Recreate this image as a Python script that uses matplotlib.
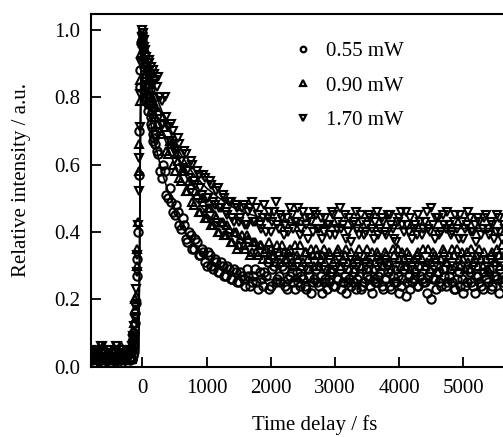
import matplotlib
matplotlib.use("Agg")
import matplotlib.pyplot as plt
from matplotlib.lines import Line2D

# ---------------------------------------------------------------
# Data
# two interleaved delay grids, each with a value list per power
# ---------------------------------------------------------------
delay_a = [
    -790, -750, -710, -670, -630, -590, -550, -510, -470, -430, -390, -350, -310, -270, -230,
    -200, -180, -160, -140, -120, -100, -80, -60, -40, -20, 0, 20, 40, 60, 80, 100, 120, 140, 160, 180, 200,
    250, 300, 350, 400, 450, 500, 550, 600, 650, 700,
    750, 800, 850, 900, 950, 1000, 1050, 1100, 1150, 1200,
    1250, 1300, 1350, 1400, 1450, 1500, 1550, 1600, 1650, 1700,
    1750, 1800, 1850, 1900, 1950, 2000, 2050, 2100, 2150, 2200,
    2250, 2300, 2350, 2400, 2450, 2500, 2550, 2600, 2650, 2700,
    2750, 2800, 2850, 2900, 2950, 3000, 3050, 3100, 3150, 3200,
    3250, 3300, 3350, 3400, 3450, 3500, 3550, 3600, 3650, 3700,
    3750, 3800, 3850, 3900, 3950, 4000, 4050, 4100, 4150, 4200,
    4250, 4300, 4350, 4400, 4450, 4500, 4550, 4600, 4650, 4700,
    4750, 4800, 4850, 4900, 4950, 5000, 5050, 5100, 5150, 5200,
    5250, 5300, 5350, 5400, 5450, 5500, 5550, 5600, 5650,
]
delay_b = [
    -770, -730, -690, -650, -610, -570, -530, -490, -450, -410, -370, -330, -290, -250,
    -190, -170, -150, -130, -110, -90, -70, -50, -30, -10, 10, 30, 50, 70, 90, 110, 130, 150, 170, 190, 225,
    275, 325, 375, 425, 475, 525, 575, 625, 675, 725,
    775, 825, 875, 925, 975, 1025, 1075, 1125, 1175, 1225,
    1275, 1325, 1375, 1425, 1475, 1525, 1575, 1625, 1675, 1725,
    1775, 1825, 1875, 1925, 1975, 2025, 2075, 2125, 2175, 2225,
    2275, 2325, 2375, 2425, 2475, 2525, 2575, 2625, 2675, 2725,
    2775, 2825, 2875, 2925, 2975, 3025, 3075, 3125, 3175, 3225,
    3275, 3325, 3375, 3425, 3475, 3525, 3575, 3625, 3675, 3725,
    3775, 3825, 3875, 3925, 3975, 4025, 4075, 4125, 4175, 4225,
    4275, 4325, 4375, 4425, 4475, 4525, 4575, 4625, 4675, 4725,
    4775, 4825, 4875, 4925, 4975, 5025, 5075, 5125, 5175, 5225,
    5275, 5325, 5375, 5425, 5475, 5525, 5575, 5625,
]

# 0.55 mW (circles)
int_055_a = [
    0.02, 0.01, 0.03, 0.02, 0.00, 0.02, 0.03, 0.01, 0.02, 0.03, 0.01, 0.02, 0.03, 0.02, 0.04,
    0.02, 0.03, 0.05, 0.08, 0.13, 0.19, 0.32, 0.57, 0.83, 0.96, 0.99, 0.93, 0.86, 0.80, 0.78, 0.79, 0.78, 0.72, 0.69, 0.68, 0.66,
    0.63, 0.56, 0.58, 0.50, 0.49, 0.45, 0.46, 0.41, 0.42, 0.37,
    0.39, 0.35, 0.37, 0.33, 0.34, 0.30, 0.33, 0.29, 0.31, 0.28,
    0.30, 0.27, 0.29, 0.26, 0.28, 0.25, 0.27, 0.24, 0.27, 0.25,
    0.29, 0.23, 0.26, 0.28, 0.31, 0.24, 0.30, 0.26, 0.25, 0.29,
    0.23, 0.27, 0.25, 0.28, 0.24, 0.26, 0.23, 0.27, 0.25, 0.29,
    0.24, 0.22, 0.26, 0.25, 0.28, 0.24, 0.26, 0.23, 0.27, 0.25,
    0.24, 0.28, 0.26, 0.23, 0.25, 0.27, 0.24, 0.26, 0.25, 0.28,
    0.23, 0.26, 0.24, 0.27, 0.25, 0.22, 0.26, 0.21, 0.27, 0.25,
    0.28, 0.24, 0.26, 0.25, 0.27, 0.20, 0.26, 0.28, 0.24, 0.27,
    0.25, 0.29, 0.23, 0.26, 0.24, 0.22, 0.25, 0.28, 0.24, 0.27,
    0.25, 0.23, 0.26, 0.29, 0.24, 0.27, 0.22, 0.25, 0.26,
]
int_055_b = [
    0.01, 0.03, 0.02, 0.04, 0.01, 0.03, 0.02, 0.00, 0.03, 0.02, 0.04, 0.01, 0.03, 0.05,
    0.03, 0.04, 0.06, 0.10, 0.16, 0.27, 0.40, 0.70, 0.88, 0.97, 0.95, 0.89, 0.84, 0.81, 0.76, 0.80, 0.74, 0.71, 0.67, 0.69, 0.64,
    0.58, 0.60, 0.51, 0.53, 0.46, 0.48, 0.42, 0.44, 0.38, 0.40,
    0.35, 0.38, 0.33, 0.35, 0.31, 0.34, 0.30, 0.32, 0.28, 0.31,
    0.27, 0.30, 0.26, 0.29, 0.25, 0.28, 0.26, 0.29, 0.24, 0.27,
    0.25, 0.28, 0.24, 0.27, 0.23, 0.29, 0.25, 0.27, 0.30, 0.24,
    0.26, 0.28, 0.23, 0.25, 0.27, 0.24, 0.29, 0.22, 0.26, 0.25,
    0.27, 0.25, 0.23, 0.28, 0.24, 0.26, 0.29, 0.25, 0.22, 0.26,
    0.25, 0.23, 0.27, 0.24, 0.29, 0.26, 0.22, 0.25, 0.27, 0.24,
    0.26, 0.28, 0.23, 0.25, 0.27, 0.24, 0.29, 0.25, 0.23, 0.26,
    0.24, 0.27, 0.25, 0.22, 0.28, 0.26, 0.23, 0.25, 0.29, 0.24,
    0.27, 0.25, 0.23, 0.28, 0.26, 0.24, 0.29, 0.25, 0.22, 0.27,
    0.24, 0.28, 0.25, 0.23, 0.27, 0.26, 0.29, 0.24,
]

# 0.90 mW (up triangles)
int_090_a = [
    0.03, 0.05, 0.02, 0.04, 0.03, 0.01, 0.04, 0.02, 0.05, 0.03, 0.02, 0.04, 0.03, 0.05, 0.04,
    0.04, 0.05, 0.07, 0.11, 0.17, 0.21, 0.35, 0.58, 0.79, 0.93, 0.98, 0.95, 0.90, 0.82, 0.85, 0.80, 0.82, 0.76, 0.79, 0.75, 0.77,
    0.76, 0.69, 0.71, 0.63, 0.66, 0.58, 0.61, 0.55, 0.58, 0.52,
    0.54, 0.48, 0.51, 0.46, 0.49, 0.44, 0.47, 0.42, 0.44, 0.40,
    0.43, 0.39, 0.41, 0.37, 0.40, 0.36, 0.39, 0.35, 0.38, 0.34,
    0.37, 0.33, 0.36, 0.34, 0.32, 0.35, 0.33, 0.36, 0.31, 0.34,
    0.32, 0.35, 0.30, 0.33, 0.36, 0.31, 0.34, 0.29, 0.33, 0.35,
    0.30, 0.33, 0.31, 0.34, 0.29, 0.32, 0.35, 0.30, 0.33, 0.31,
    0.34, 0.29, 0.32, 0.30, 0.33, 0.35, 0.31, 0.29, 0.34, 0.32,
    0.30, 0.33, 0.31, 0.35, 0.29, 0.32, 0.34, 0.30, 0.33, 0.31,
    0.29, 0.34, 0.32, 0.30, 0.35, 0.31, 0.33, 0.28, 0.32, 0.34,
    0.31, 0.29, 0.33, 0.35, 0.30, 0.32, 0.34, 0.29, 0.31, 0.33,
    0.35, 0.30, 0.32, 0.28, 0.34, 0.31, 0.33, 0.36, 0.30,
]
int_090_b = [
    0.04, 0.02, 0.05, 0.03, 0.06, 0.02, 0.04, 0.03, 0.05, 0.02, 0.04, 0.06, 0.03, 0.04,
    0.05, 0.06, 0.09, 0.13, 0.20, 0.30, 0.43, 0.66, 0.85, 0.97, 0.96, 0.92, 0.87, 0.84, 0.81, 0.84, 0.78, 0.80, 0.77, 0.74, 0.72,
    0.70, 0.74, 0.64, 0.67, 0.60, 0.63, 0.56, 0.59, 0.52, 0.55,
    0.49, 0.52, 0.46, 0.50, 0.44, 0.47, 0.42, 0.45, 0.40, 0.43,
    0.39, 0.42, 0.37, 0.40, 0.35, 0.38, 0.36, 0.39, 0.33, 0.37,
    0.34, 0.36, 0.32, 0.35, 0.37, 0.33, 0.31, 0.34, 0.36, 0.32,
    0.34, 0.31, 0.36, 0.32, 0.30, 0.34, 0.32, 0.35, 0.30, 0.33,
    0.32, 0.35, 0.29, 0.33, 0.31, 0.34, 0.30, 0.32, 0.35, 0.29,
    0.31, 0.33, 0.35, 0.30, 0.32, 0.29, 0.34, 0.31, 0.33, 0.30,
    0.34, 0.31, 0.29, 0.33, 0.35, 0.30, 0.32, 0.34, 0.29, 0.32,
    0.33, 0.30, 0.35, 0.31, 0.29, 0.34, 0.32, 0.30, 0.35, 0.31,
    0.33, 0.35, 0.30, 0.32, 0.34, 0.29, 0.31, 0.35, 0.32, 0.30,
    0.32, 0.34, 0.29, 0.33, 0.31, 0.35, 0.30, 0.33,
]

# 1.70 mW (down triangles)
int_170_a = [
    0.04, 0.02, 0.05, 0.03, 0.06, 0.04, 0.02, 0.05, 0.03, 0.04, 0.06, 0.03, 0.05, 0.04, 0.03,
    0.03, 0.05, 0.06, 0.09, 0.14, 0.23, 0.33, 0.52, 0.71, 0.90, 1.00, 0.97, 0.94, 0.91, 0.88, 0.90, 0.86, 0.89, 0.84, 0.87, 0.85,
    0.86, 0.79, 0.80, 0.71, 0.72, 0.64, 0.68, 0.61, 0.64, 0.58,
    0.61, 0.55, 0.58, 0.53, 0.57, 0.50, 0.55, 0.49, 0.52, 0.47,
    0.51, 0.46, 0.49, 0.44, 0.48, 0.43, 0.47, 0.42, 0.46, 0.49,
    0.43, 0.45, 0.41, 0.48, 0.44, 0.40, 0.46, 0.42, 0.45, 0.39,
    0.44, 0.47, 0.41, 0.43, 0.39, 0.46, 0.42, 0.44, 0.40, 0.45,
    0.41, 0.38, 0.44, 0.42, 0.46, 0.39, 0.43, 0.41, 0.45, 0.40,
    0.37, 0.43, 0.41, 0.45, 0.39, 0.42, 0.44, 0.38, 0.46, 0.41,
    0.43, 0.39, 0.45, 0.41, 0.37, 0.44, 0.42, 0.46, 0.40, 0.38,
    0.42, 0.45, 0.39, 0.43, 0.41, 0.47, 0.38, 0.44, 0.40, 0.42,
    0.46, 0.39, 0.43, 0.41, 0.45, 0.38, 0.42, 0.44, 0.40, 0.37,
    0.43, 0.41, 0.45, 0.39, 0.42, 0.40, 0.44, 0.38, 0.41,
]
int_170_b = [
    0.03, 0.05, 0.02, 0.06, 0.04, 0.03, 0.05, 0.02, 0.04, 0.06, 0.03, 0.05, 0.02, 0.04,
    0.04, 0.05, 0.08, 0.12, 0.18, 0.28, 0.42, 0.62, 0.81, 0.98, 0.99, 0.95, 0.92, 0.89, 0.86, 0.91, 0.87, 0.84, 0.88, 0.85, 0.83,
    0.80, 0.72, 0.74, 0.67, 0.70, 0.63, 0.66, 0.59, 0.63, 0.56,
    0.60, 0.54, 0.57, 0.51, 0.56, 0.50, 0.54, 0.48, 0.53, 0.47,
    0.50, 0.45, 0.49, 0.43, 0.47, 0.44, 0.48, 0.42, 0.47, 0.43,
    0.47, 0.42, 0.44, 0.40, 0.46, 0.43, 0.49, 0.41, 0.44, 0.42,
    0.40, 0.45, 0.43, 0.47, 0.41, 0.44, 0.38, 0.43, 0.46, 0.41,
    0.44, 0.40, 0.42, 0.39, 0.45, 0.41, 0.47, 0.42, 0.38, 0.44,
    0.42, 0.46, 0.39, 0.43, 0.40, 0.45, 0.41, 0.43, 0.39, 0.44,
    0.40, 0.45, 0.42, 0.38, 0.43, 0.46, 0.40, 0.42, 0.44, 0.41,
    0.39, 0.43, 0.41, 0.46, 0.40, 0.42, 0.44, 0.39, 0.45, 0.41,
    0.42, 0.40, 0.45, 0.38, 0.43, 0.41, 0.46, 0.40, 0.42, 0.44,
    0.39, 0.44, 0.41, 0.43, 0.38, 0.45, 0.40, 0.42,
]

# fitted curves, sampled from the drawn lines
fit_t = [-800, -100, -60, -45, -35, -25, -15, 0, 50, 100, 150, 200, 300, 400, 500,
         600, 700, 800, 900, 1000, 1200, 1400, 1600, 1800, 2000, 2500, 3000, 4000, 5000, 6000]
fit_055 = [0.01, 0.01, 0.04, 0.28, 0.58, 0.80, 0.87, 0.86, 0.81, 0.76, 0.70, 0.66, 0.58, 0.52, 0.47,
           0.42, 0.39, 0.36, 0.34, 0.32, 0.295, 0.278, 0.268, 0.262, 0.258, 0.252, 0.25, 0.25, 0.25, 0.25]
fit_090 = [0.01, 0.01, 0.04, 0.29, 0.60, 0.83, 0.90, 0.89, 0.87, 0.83, 0.80, 0.76, 0.70, 0.65, 0.60,
           0.56, 0.53, 0.50, 0.48, 0.454, 0.418, 0.39, 0.371, 0.356, 0.344, 0.327, 0.318, 0.312, 0.31, 0.31]
fit_170 = [0.01, 0.01, 0.05, 0.31, 0.63, 0.87, 0.95, 0.94, 0.92, 0.88, 0.85, 0.81, 0.76, 0.71, 0.665,
           0.63, 0.60, 0.57, 0.55, 0.53, 0.50, 0.474, 0.457, 0.445, 0.435, 0.422, 0.415, 0.41, 0.41, 0.41]

labels = ["0.55 mW", "0.90 mW", "1.70 mW"]
markers = ["o", "^", "v"]

# ---------------------------------------------------------------
# Plot
# ---------------------------------------------------------------
plt.rcParams["font.family"] = ["Liberation Serif", "DejaVu Serif"]

fig = plt.figure(figsize=(5.03, 4.37), dpi=100)
# axes runs past the right edge of the figure, as in the original crop
ax = fig.add_axes([0.181, 0.161, 0.868, 0.807])

series = [(int_055_a, int_055_b), (int_090_a, int_090_b), (int_170_a, int_170_b)]
for (ya, yb), m in zip(series, markers):
    ax.plot(delay_a + delay_b, ya + yb, m, ms=6, mfc="none", mec="black", mew=1.5)

for f in [fit_055, fit_090, fit_170]:
    ax.plot(fit_t, f, "-", color="black", lw=1.2)

ax.set_xlim(-800, 6000)
ax.set_ylim(0, 1.047)
ax.set_xticks([0, 1000, 2000, 3000, 4000, 5000])
ax.set_yticks([0.0, 0.2, 0.4, 0.6, 0.8, 1.0])
ax.set_yticklabels(["0.0", "0.2", "0.4", "0.6", "0.8", "1.0"])
ax.tick_params(direction="in", length=7.5, width=1.3, labelsize=15, pad=8)
ax.tick_params(axis="x", pad=9)
for s in ax.spines.values():
    s.set_linewidth(1.5)

ax.set_xlabel("Time delay / fs", fontsize=15)
ax.set_ylabel("Relative intensity / a.u.", fontsize=15)
ax.xaxis.set_label_coords(0.513, -0.138)
ax.yaxis.set_label_coords(-0.138, 0.53)

handles = [Line2D([], [], ls="none", marker=m, ms=4, mfc="none", mec="black", mew=1.6)
           for m in markers]
ax.legend(handles, labels, loc="upper left", bbox_to_anchor=(0.565, 0.929),
          bbox_transform=fig.transFigure, frameon=False, fontsize=15,
          handlelength=0.8, handletextpad=0.7, labelspacing=0.72, borderpad=0)

fig.savefig("out.png", dpi=100)
